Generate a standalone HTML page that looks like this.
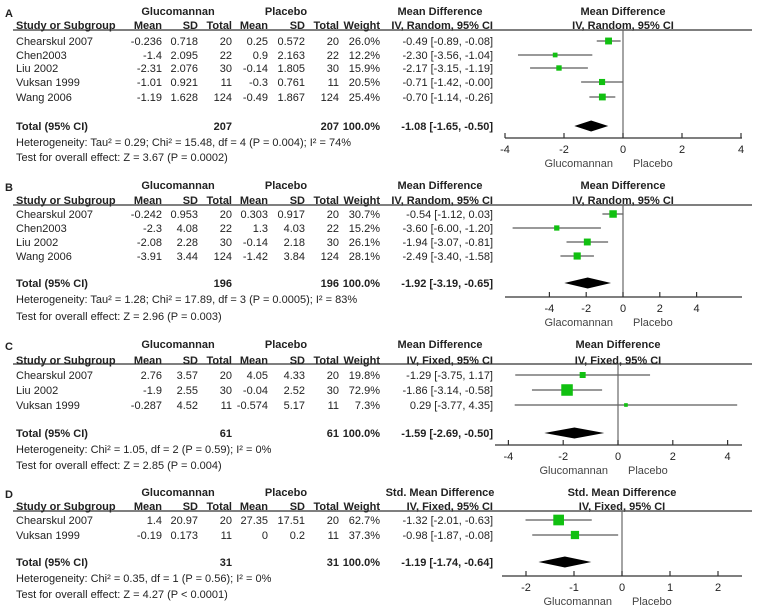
<!DOCTYPE html>
<html><head><meta charset="utf-8"><style>
html,body{margin:0;padding:0;background:#fff}
svg{display:block;font-family:"Liberation Sans",Arial,sans-serif;font-size:11px;fill:#222}
.b{font-weight:bold}
</style></head><body>
<svg id="fig" width="759" height="615" viewBox="0 0 759 615" xmlns="http://www.w3.org/2000/svg"></svg>
<script>
// ---- Panel A data ----
const aStudies=["Chearskul 2007","Chen2003","Liu 2002","Vuksan 1999","Wang 2006"];
const aGMean=["-0.236","-1.4","-2.31","-1.01","-1.19"];
const aGSD=["0.718","2.095","2.076","0.921","1.628"];
const aGN=["20","22","30","11","124"];
const aPMean=["0.25","0.9","-0.14","-0.3","-0.49"];
const aPSD=["0.572","2.163","1.805","0.761","1.867"];
const aPN=["20","22","30","11","124"];
const aWeight=[26.0,12.2,15.9,20.5,25.4];
const aEst=[-0.49,-2.30,-2.17,-0.71,-0.70];
const aLo=[-0.89,-3.56,-3.15,-1.42,-1.14];
const aHi=[-0.08,-1.04,-1.19,-0.001,-0.26];
const aTotal=[-1.08,-1.65,-0.50];
const aTicks=[-4,-2,0,2,4];
// ---- Panel B data ----
const bStudies=["Chearskul 2007","Chen2003","Liu 2002","Wang 2006"];
const bGMean=["-0.242","-2.3","-2.08","-3.91"];
const bGSD=["0.953","4.08","2.28","3.44"];
const bGN=["20","22","30","124"];
const bPMean=["0.303","1.3","-0.14","-1.42"];
const bPSD=["0.917","4.03","2.18","3.84"];
const bPN=["20","22","30","124"];
const bWeight=[30.7,15.2,26.1,28.1];
const bEst=[-0.54,-3.60,-1.94,-2.49];
const bLo=[-1.12,-6.00,-3.07,-3.40];
const bHi=[0.03,-1.20,-0.81,-1.58];
const bTotal=[-1.92,-3.19,-0.65];
const bTicks=[-4,-2,0,2,4];
// ---- Panel C data ----
const cStudies=["Chearskul 2007","Liu 2002","Vuksan 1999"];
const cGMean=["2.76","-1.9","-0.287"];
const cGSD=["3.57","2.55","4.52"];
const cGN=["20","30","11"];
const cPMean=["4.05","-0.04","-0.574"];
const cPSD=["4.33","2.52","5.17"];
const cPN=["20","30","11"];
const cWeight=[19.8,72.9,7.3];
const cEst=[-1.29,-1.86,0.29];
const cLo=[-3.75,-3.14,-3.77];
const cHi=[1.17,-0.58,4.35];
const cTotal=[-1.59,-2.69,-0.50];
const cTicks=[-4,-2,0,2,4];
// ---- Panel D data ----
const dStudies=["Chearskul 2007","Vuksan 1999"];
const dGMean=["1.4","-0.19"];
const dGSD=["20.97","0.173"];
const dGN=["20","11"];
const dPMean=["27.35","0"];
const dPSD=["17.51","0.2"];
const dPN=["20","11"];
const dWeight=[62.7,37.3];
const dEst=[-1.32,-0.98];
const dLo=[-2.01,-1.87];
const dHi=[-0.63,-0.08];
const dTotal=[-1.19,-1.74,-0.64];
const dTicks=[-2,-1,0,1,2];

const NS="http://www.w3.org/2000/svg";
const svg=document.getElementById('fig');
function mk(tag,attrs,parent){const e=document.createElementNS(NS,tag);for(const k in attrs)e.setAttribute(k,attrs[k]);(parent||svg).appendChild(e);return e;}
function txt(s,x,y,anchor,cls,parent){const t=mk('text',{x:x,y:y,'text-anchor':anchor||'start'},parent);if(cls)t.setAttribute('class',cls);t.textContent=s;return t;}
function f2(v){return v.toFixed(2);}
function ci(e,l,h){return f2(e)+" ["+f2(l)+", "+f2(h)+"]";}

function panel(p){
  const g=mk('g',{});
  
  
  const X=v=>p.zero+v*p.scale;
  txt(p.letter,5,p.h1+6,'start','b',g);
  txt("Glucomannan",178,p.h1+4,'middle','b',g);
  txt("Placebo",286,p.h1+4,'middle','b',g);
  txt(p.mdTitle,440,p.h1+4,'middle','b',g);
  txt(p.mdTitle,p.zero,p.h1+4,'middle','b',g);
  const hy=p.h2+4;
  txt("Study or Subgroup",16,hy,'start','b',g);
  [["Mean",162],["SD",198],["Total",232],["Mean",268],["SD",305],["Total",339],["Weight",380]].forEach(c=>txt(c[0],c[1],hy,'end','b',g));
  txt(p.method,493,hy,'end','b',g);
  txt(p.method,p.zero,hy,'middle','b',g);
  mk('line',{x1:13,x2:752,y1:p.line,y2:p.line,stroke:'#333','stroke-width':1.2},g);
  p.studies.forEach((s,i)=>{
    const y=p.rows[i];
    const r=mk('g',{},g);
    
    
    txt(s,16,y+4,'start','',r);
    txt(p.gm[i],162,y+4,'end','',r);txt(p.gsd[i],198,y+4,'end','',r);txt(p.gn[i],232,y+4,'end','',r);
    txt(p.pm[i],268,y+4,'end','',r);txt(p.psd[i],305,y+4,'end','',r);txt(p.pn[i],339,y+4,'end','',r);
    txt(p.w[i].toFixed(1)+"%",380,y+4,'end','',r);
    txt(ci(p.est[i],p.lo[i],p.hi[i]),493,y+4,'end','',r);
    const ln=mk('line',{x1:X(p.lo[i]),x2:X(p.hi[i]),y1:y,y2:y,stroke:'#333','stroke-width':1},g);
    
    
    const sz=1.35*Math.sqrt(p.w[i]);
    const bx=mk('rect',{x:X(p.est[i])-sz/2,y:y-sz/2,width:sz,height:sz,fill:'#11c011'},g);
    
    
  });
  const ty=p.total;
  txt("Total (95% CI)",16,ty+4,'start','b',g);
  txt(p.nTot[0],232,ty+4,'end','b',g);txt(p.nTot[1],339,ty+4,'end','b',g);
  txt("100.0%",380,ty+4,'end','b',g);
  txt(ci(p.tot[0],p.tot[1],p.tot[2]),493,ty+4,'end','b',g);
  const dm=mk('polygon',{points:[X(p.tot[1])+','+ty,X(p.tot[0])+','+(ty-5.5),X(p.tot[2])+','+ty,X(p.tot[0])+','+(ty+5.5)].join(' '),fill:'#000'},g);
  
  
  txt(p.het,16,p.het_y+4,'start','',g);
  txt(p.test,16,p.test_y+4,'start','',g);
  mk('line',{x1:p.zero,x2:p.zero,y1:p.line,y2:p.axis,stroke:'#666','stroke-width':1.2},g);
  const ax=mk('line',{x1:p.ax0,x2:742,y1:p.axis,y2:p.axis,stroke:'#333','stroke-width':1.2},g);
  
  
  p.ticks.forEach(t=>{
    mk('line',{x1:X(t),x2:X(t),y1:p.axis-5,y2:p.axis,stroke:'#333','stroke-width':1.2},g);
    txt(String(t),X(t),p.axis+15,'middle','',g);
  });
  txt(p.leftLab,p.zero-10,p.axis+29,'end','',g).setAttribute('fill','#444');
  txt("Placebo",p.zero+10,p.axis+29,'start','',g).setAttribute('fill','#444');
}

panel({letter:"A",mdTitle:"Mean Difference",method:"IV, Random, 95% CI",h1:11,h2:25,line:30,
 rows:[41,55,68,82,97],total:126,het_y:142,test_y:157,axis:138,zero:623,scale:29.5,ax0:505,ticks:aTicks,
 studies:aStudies,gm:aGMean,gsd:aGSD,gn:aGN,pm:aPMean,psd:aPSD,pn:aPN,w:aWeight,est:aEst,lo:aLo,hi:aHi,tot:aTotal,nTot:["207","207"],
 het:"Heterogeneity: Tau² = 0.29; Chi² = 15.48, df = 4 (P = 0.004); I² = 74%",test:"Test for overall effect: Z = 3.67 (P = 0.0002)",leftLab:"Glucomannan"});
panel({letter:"B",mdTitle:"Mean Difference",method:"IV, Random, 95% CI",h1:185,h2:200,line:205,
 rows:[214,228,242,256],total:283,het_y:299,test_y:316,axis:297,zero:623,scale:18.4,ax0:505,ticks:bTicks,
 studies:bStudies,gm:bGMean,gsd:bGSD,gn:bGN,pm:bPMean,psd:bPSD,pn:bPN,w:bWeight,est:bEst,lo:bLo,hi:bHi,tot:bTotal,nTot:["196","196"],
 het:"Heterogeneity: Tau² = 1.28; Chi² = 17.89, df = 3 (P = 0.0005); I² = 83%",test:"Test for overall effect: Z = 2.96 (P = 0.003)",leftLab:"Glacomannan"});
panel({letter:"C",mdTitle:"Mean Difference",method:"IV, Fixed, 95% CI",h1:344,h2:360,line:364,
 rows:[375,390,405],total:433,het_y:449,test_y:465,axis:445,zero:618,scale:27.4,ax0:495,ticks:cTicks,
 studies:cStudies,gm:cGMean,gsd:cGSD,gn:cGN,pm:cPMean,psd:cPSD,pn:cPN,w:cWeight,est:cEst,lo:cLo,hi:cHi,tot:cTotal,nTot:["61","61"],
 het:"Heterogeneity: Chi² = 1.05, df = 2 (P = 0.59); I² = 0%",test:"Test for overall effect: Z = 2.85 (P = 0.004)",leftLab:"Glucomannan"});
panel({letter:"D",mdTitle:"Std. Mean Difference",method:"IV, Fixed, 95% CI",h1:492,h2:506,line:511,
 rows:[520,535],total:562,het_y:578,test_y:594,axis:576,zero:622,scale:48,ax0:502,ticks:dTicks,
 studies:dStudies,gm:dGMean,gsd:dGSD,gn:dGN,pm:dPMean,psd:dPSD,pn:dPN,w:dWeight,est:dEst,lo:dLo,hi:dHi,tot:dTotal,nTot:["31","31"],
 het:"Heterogeneity: Chi² = 0.35, df = 1 (P = 0.56); I² = 0%",test:"Test for overall effect: Z = 4.27 (P < 0.0001)",leftLab:"Glucomannan"});
</script>
</body></html>
